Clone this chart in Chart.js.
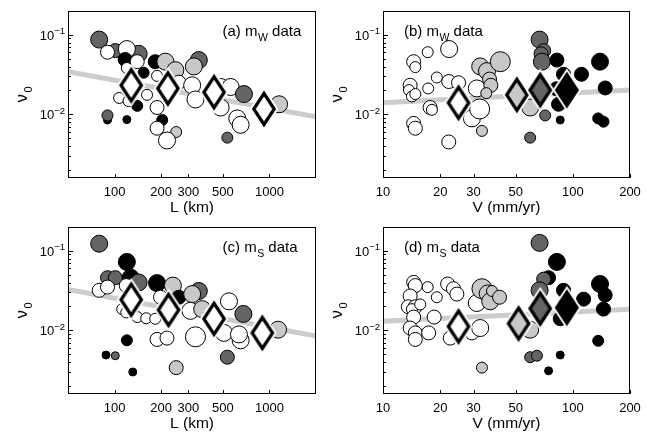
<!DOCTYPE html>
<html>
<head>
<meta charset="utf-8">
<script src="https://cdn.jsdelivr.net/npm/chart.js@4.4.1/dist/chart.umd.min.js"></script>
<style>
  html, body { margin: 0; padding: 0; background: #fff; }
  #wrap { position: relative; width: 661px; height: 437px; overflow: hidden; background: #fff; }
  #wrap canvas { position: absolute; }
</style>
</head>
<body>
<div id="wrap">
  <canvas id="pa" width="330" height="216" style="left:0px;top:0px"></canvas>
  <canvas id="pb" width="331" height="216" style="left:330px;top:0px"></canvas>
  <canvas id="pc" width="330" height="221" style="left:0px;top:216px"></canvas>
  <canvas id="pd" width="331" height="221" style="left:330px;top:216px"></canvas>
</div>
<script>
// ---- tick values ----
const lengthTicks = [100, 200, 300, 500, 1000];
const speedTicks = [10, 20, 30, 50, 100, 200];
const nuTicks = [0.1, 0.01];

// velocity group of each zone: 0 slow ... 3 fast; grade: relative marker weight 1..5

// ---- (a) m_W data against length L (km) ----
const aLength = [79.5, 101, 90, 143, 120, 117, 140, 120, 154, 107, 123, 162, 140, 90, 90, 120,
  183, 213, 188, 247, 260, 188, 203, 188, 250, 218, 350, 325, 317, 333, 484, 562, 484, 685, 620, 652, 535, 1155];
const aNu = [0.0872, 0.0634, 0.0605, 0.0578, 0.0663, 0.049, 0.046, 0.0383, 0.0334, 0.0161, 0.0147, 0.0176, 0.0128, 0.0085, 0.0097, 0.0086,
  0.046, 0.046, 0.0305, 0.036, 0.0254, 0.0122, 0.0085, 0.0067, 0.006, 0.0047, 0.0482, 0.0401, 0.0232, 0.0154, 0.0221, 0.0221, 0.0122, 0.018, 0.0089, 0.0074, 0.0051, 0.0134];
const aGroup = [2, 2, 0, 2, 0, 3, 0, 0, 3, 0, 0, 0, 3, 3, 2, 3,
  3, 1, 0, 1, 0, 0, 3, 0, 1, 0, 2, 1, 0, 0, 0, 0, 0, 2, 0, 0, 2, 1];
const aGrade = [4, 3, 3, 4, 4, 3, 3, 2, 2, 2, 2, 2, 2, 1, 2, 1,
  3, 4, 2, 4, 3, 3, 2, 3, 2, 4, 4, 4, 4, 4, 4, 4, 4, 4, 4, 4, 2, 4];
const aBinLength = [128, 221, 439, 922];
const aBinNu = [0.0232, 0.0212, 0.019, 0.0117];
const aBinGroup = [0, 0, 0, 0];
const aFitLength = [50, 2000];
const aFitNu = [0.0343, 0.0093];

// ---- (b) m_W data against velocity V (mm/yr) ----
const bSpeed = [14.5, 14.8, 13.9, 13.7, 14.2, 14.8, 14.5, 14.8, 17.2, 17.3, 19.2, 17.7, 18.1, 22.3, 22.2, 25, 22.2, 29.4, 31.2,
  32.5, 35.3, 36.4, 37, 35, 41.5, 33.2, 32.3, 59.6,
  66.8, 70.2, 68, 68.7, 71.5, 59.6,
  82.4, 89.3, 82, 84.1, 85.8, 111, 139, 148, 136, 145];
const bNu = [0.046, 0.0393, 0.0232, 0.0202, 0.0168, 0.018, 0.0077, 0.0067, 0.0605, 0.0212, 0.0291, 0.0122, 0.0114, 0.0663, 0.0259, 0.025, 0.0045, 0.0089, 0.0212,
  0.0401, 0.035, 0.0278, 0.0232, 0.0185, 0.046, 0.0062, 0.0117, 0.0122,
  0.0872, 0.0634, 0.0578, 0.046, 0.0097, 0.0051,
  0.0482, 0.0319, 0.021, 0.0134, 0.0085, 0.0319, 0.046, 0.0215, 0.0089, 0.0081];
const bGroup = [0, 0, 0, 0, 0, 0, 0, 0, 0, 0, 0, 0, 0, 0, 0, 0, 0, 0, 0,
  1, 1, 1, 1, 1, 1, 1, 0, 1,
  2, 2, 2, 2, 2, 2,
  3, 3, 3, 3, 3, 3, 3, 3, 3, 3];
const bGrade = [3, 2, 3, 2, 2, 2, 3, 3, 2, 2, 2, 3, 2, 4, 3, 3, 3, 4, 4,
  4, 4, 3, 3, 2, 5, 2, 5, 4,
  4, 3, 3, 4, 2, 2,
  3, 3, 3, 3, 1, 3, 4, 3, 2, 2];
const bBinSpeed = [25, 50.7, 67.3, 93];
const bBinNu = [0.014, 0.0176, 0.0202, 0.0202];
const bBinGroup = [0, 1, 2, 3];
const bFitSpeed = [10, 200];
const bFitNu = [0.014, 0.0202];

// ---- (c) m_S data against length L (km) ----
const cLength = [79.5, 90, 101, 127, 120, 143, 79.5, 90, 119,
  112, 119, 140, 160, 183,
  188, 238, 198, 260, 350, 317,
  309, 368, 548, 679,
  333, 188, 218, 652, 508, 636,
  1138, 120, 88, 101, 131, 250, 535];
const cNu = [0.123, 0.046, 0.046, 0.046, 0.0726, 0.0401, 0.0319, 0.035, 0.0366,
  0.0185, 0.0168, 0.0147, 0.0142, 0.014,
  0.0393, 0.0366, 0.0261, 0.0261, 0.0313, 0.0286,
  0.0176, 0.0185, 0.0232, 0.0161,
  0.0083, 0.0077, 0.008, 0.0075, 0.0093, 0.0089,
  0.0102, 0.0075, 0.0049, 0.0048, 0.003, 0.0034, 0.0046];
const cGroup = [2, 2, 2, 3, 3, 2, 0, 0, 0,
  0, 0, 0, 0, 0,
  3, 1, 0, 3, 2, 1,
  0, 1, 0, 2,
  0, 0, 0, 0, 0, 0,
  1, 3, 3, 2, 3, 1, 2];
const cGrade = [4, 3, 3, 4, 4, 4, 3, 3, 3,
  2, 2, 2, 2, 2,
  4, 4, 3, 3, 4, 4,
  4, 4, 4, 4,
  5, 3, 3, 4, 4, 4,
  4, 2, 1, 1, 1, 3, 3];
const cBinLength = [128, 223, 439, 900];
const cBinNu = [0.0243, 0.0181, 0.014, 0.0093];
const cBinGroup = [0, 0, 0, 0];
const cFitLength = [50, 2000];
const cFitNu = [0.0328, 0.0085];

// ---- (d) m_S data against velocity V (mm/yr) ----
const dSpeed = [14.5, 14.8, 13.9, 17.2, 19.2, 13.6, 14.8, 14.2, 15.7, 14.5, 18.6, 13.9, 14.8, 14.8, 17.4, 21.9, 23.5, 24.5, 22.6, 29.4, 31.2, 32.5,
  33.2, 35.6, 36.7, 37.5, 41.1, 33.2, 59.6,
  74.5,
  66.8, 70.2, 66.8, 71.5, 59.6, 64.7,
  82.4, 89.3, 85.8, 114, 139, 148, 145, 136, 85.8, 74.5];
const dNu = [0.0401, 0.0366, 0.0271, 0.035, 0.0261, 0.0198, 0.0198, 0.0185, 0.0212, 0.0147, 0.0147, 0.0107, 0.0093, 0.0077, 0.0093, 0.0383, 0.0334, 0.0286, 0.008, 0.0093, 0.0221, 0.0107,
  0.0334, 0.0291, 0.0232, 0.0313, 0.0261, 0.0034, 0.0102,
  0.046,
  0.126, 0.0441, 0.0319, 0.0185, 0.0046, 0.0048,
  0.0726, 0.0319, 0.014, 0.0247, 0.0383, 0.0278, 0.0185, 0.0074, 0.0049, 0.0031];
const dGroup = [0, 0, 0, 0, 0, 0, 0, 0, 0, 0, 0, 0, 0, 0, 0, 0, 0, 0, 0, 0, 0, 0,
  1, 1, 1, 1, 1, 1, 1,
  3,
  2, 2, 2, 2, 2, 2,
  3, 3, 3, 3, 3, 3, 3, 3, 3, 3];
const dGrade = [3, 3, 3, 2, 2, 3, 3, 2, 2, 3, 3, 3, 3, 3, 3, 3, 3, 3, 3, 3, 4, 4,
  5, 4, 4, 2, 3, 2, 4,
  3,
  4, 3, 4, 3, 2, 2,
  4, 3, 3, 3, 4, 3, 3, 2, 1, 1];
const dBinSpeed = [25, 51.8, 67.3, 93];
const dBinNu = [0.0112, 0.0122, 0.0188, 0.0193];
const dBinGroup = [0, 1, 2, 3];
const dFitSpeed = [10, 200];
const dFitNu = [0.013, 0.0185];

// ---- styling ----
const GROUP_FILL = ['#ffffff', '#c8c8c8', '#646464', '#000000'];
const FIT_COLOR = '#cccccc';
const FONT = '"Liberation Sans", Arial, Helvetica, sans-serif';
const NU_MIN = Math.pow(10, -2.8);
const NU_MAX = Math.pow(10, -0.7);

// marker radius from grade
function gradeRadius(g) { return 2.5 + 1.5 * g; }

// Tall diamond marker with a black outline and a thin white halo
function diamondMarker(fill) {
  const c = document.createElement('canvas');
  c.width = 36; c.height = 48;
  const g = c.getContext('2d');
  const hw = 10.2, hh = 15.5, cx = 18, cy = 24;
  g.beginPath();
  g.moveTo(cx, cy - hh);
  g.lineTo(cx + hw, cy);
  g.lineTo(cx, cy + hh);
  g.lineTo(cx - hw, cy);
  g.closePath();
  g.lineJoin = 'miter';
  g.strokeStyle = '#ffffff'; g.lineWidth = 7; g.stroke();
  g.fillStyle = fill; g.fill();
  g.strokeStyle = '#000000'; g.lineWidth = 3.2; g.stroke();
  return c;
}
const DIAMONDS = GROUP_FILL.map(diamondMarker);

// Frame, inward ticks, tick labels and titles
function framePlugin(spec) {
  return {
    id: 'frame',
    afterDraw(chart) {
      const { ctx, chartArea: a } = chart;
      const xs = chart.scales.x, ys = chart.scales.y;
      ctx.save();
      ctx.strokeStyle = '#000';
      ctx.fillStyle = '#000';
      ctx.lineWidth = 1;
      ctx.strokeRect(a.left + 0.5, a.top + 0.5, a.right - a.left - 1, a.bottom - a.top - 1);

      // y ticks (log decades with minor marks)
      ctx.beginPath();
      for (let e = -3; e <= -1; e++) {
        for (let k = 1; k <= 9; k++) {
          const v = k * Math.pow(10, e);
          if (v < ys.min || v > ys.max) continue;
          const py = Math.round(ys.getPixelForValue(v)) + 0.5;
          const len = k === 1 ? 4 : 2;
          ctx.moveTo(a.left, py);
          ctx.lineTo(a.left + 1 + len, py);
        }
      }
      // x ticks
      spec.xTicks.forEach(v => {
        const px = Math.round(xs.getPixelForValue(v)) + 0.5;
        ctx.moveTo(px, a.bottom);
        ctx.lineTo(px, a.bottom - 4);
      });
      ctx.stroke();

      // x tick labels
      ctx.font = '13px ' + FONT;
      ctx.textAlign = 'center';
      ctx.textBaseline = 'middle';
      spec.xTicks.forEach(v => {
        ctx.fillText(String(v), xs.getPixelForValue(v), a.bottom + 14);
      });
      // x title
      ctx.font = '15.5px ' + FONT;
      ctx.fillText(spec.xTitle, (a.left + a.right) / 2, a.bottom + 30);

      // y tick labels as powers of ten
      nuTicks.forEach(v => {
        const py = ys.getPixelForValue(v);
        const sup = '\u2212' + String(-Math.round(Math.log10(v)));
        ctx.font = '9.5px ' + FONT;
        const sw = ctx.measureText(sup).width;
        ctx.textAlign = 'left';
        ctx.fillText(sup, a.left - 3 - sw, py - 3.5);
        ctx.font = '13px ' + FONT;
        ctx.textAlign = 'right';
        ctx.fillText('10', a.left - 3 - sw, py + 1.5);
      });

      // y title: nu with subscript 0, rotated
      ctx.save();
      ctx.translate(a.left - 46, (a.top + a.bottom) / 2);
      ctx.rotate(-Math.PI / 2);
      ctx.textAlign = 'left';
      ctx.textBaseline = 'alphabetic';
      ctx.font = '17px ' + FONT;
      ctx.fillText('\u03bd', -8, 5);
      ctx.font = '11px ' + FONT;
      ctx.fillText('0', 2, 10);
      ctx.restore();

      // panel label with subscript
      ctx.textAlign = 'left';
      ctx.textBaseline = 'alphabetic';
      let x = a.left + spec.labelDx;
      const base = a.top + 25;
      ctx.font = '15px ' + FONT;
      ctx.fillText(spec.label, x, base);
      x += ctx.measureText(spec.label).width + 0.5;
      ctx.font = '10.5px ' + FONT;
      ctx.fillText(spec.sub, x, base + 5);
      x += ctx.measureText(spec.sub).width;
      ctx.font = '15px ' + FONT;
      ctx.fillText(' data', x, base);
      ctx.restore();
    }
  };
}

function buildPanel(id, spec) {
  const zones = spec.x.map((v, i) => ({ x: v, y: spec.nu[i] }));
  const bins = spec.binX.map((v, i) => ({ x: v, y: spec.binNu[i] }));
  const fit = spec.fitX.map((v, i) => ({ x: v, y: spec.fitNu[i] }));
  new Chart(document.getElementById(id), {
    type: 'scatter',
    data: {
      datasets: [
        {
          label: 'bin means',
          data: bins,
          order: 0,
          pointRadius: 10,
          pointStyle: ctx => DIAMONDS[spec.binGroup[ctx.dataIndex]]
        },
        {
          label: 'zones',
          data: zones,
          order: 1,
          pointStyle: 'circle',
          pointRadius: ctx => gradeRadius(spec.grade[ctx.dataIndex]),
          pointBackgroundColor: ctx => GROUP_FILL[spec.group[ctx.dataIndex]],
          pointBorderColor: '#000000',
          pointBorderWidth: 1
        },
        {
          label: 'fit',
          type: 'line',
          data: fit,
          order: 2,
          showLine: true,
          borderColor: FIT_COLOR,
          borderWidth: 5,
          pointRadius: 0,
          fill: false
        }
      ]
    },
    options: {
      responsive: false,
      animation: false,
      events: [],
      layout: { padding: spec.padding },
      plugins: { legend: { display: false }, tooltip: { enabled: false } },
      scales: {
        x: { type: 'logarithmic', display: false, min: spec.xMin, max: spec.xMax, bounds: 'data' },
        y: { type: 'logarithmic', display: false, min: NU_MIN, max: NU_MAX, bounds: 'data' }
      }
    },
    plugins: [framePlugin(spec)]
  });
}

buildPanel('pa', {
  x: aLength, nu: aNu, group: aGroup, grade: aGrade,
  binX: aBinLength, binNu: aBinNu, binGroup: aBinGroup,
  fitX: aFitLength, fitNu: aFitNu,
  xMin: 50, xMax: 2000, xTicks: lengthTicks, xTitle: 'L (km)',
  label: '(a) m', sub: 'W', labelDx: 154.5,
  padding: { left: 68, right: 14, top: 2, bottom: 38 }
});
buildPanel('pb', {
  x: bSpeed, nu: bNu, group: bGroup, grade: bGrade,
  binX: bBinSpeed, binNu: bBinNu, binGroup: bBinGroup,
  fitX: bFitSpeed, fitNu: bFitNu,
  xMin: 10, xMax: 200, xTicks: speedTicks, xTitle: 'V (mm/yr)',
  label: '(b) m', sub: 'W', labelDx: 21,
  padding: { left: 53, right: 31, top: 2, bottom: 38 }
});
buildPanel('pc', {
  x: cLength, nu: cNu, group: cGroup, grade: cGrade,
  binX: cBinLength, binNu: cBinNu, binGroup: cBinGroup,
  fitX: cFitLength, fitNu: cFitNu,
  xMin: 50, xMax: 2000, xTicks: lengthTicks, xTitle: 'L (km)',
  label: '(c) m', sub: 'S', labelDx: 154.5,
  padding: { left: 68, right: 14, top: 2, bottom: 43 }
});
buildPanel('pd', {
  x: dSpeed, nu: dNu, group: dGroup, grade: dGrade,
  binX: dBinSpeed, binNu: dBinNu, binGroup: dBinGroup,
  fitX: dFitSpeed, fitNu: dFitNu,
  xMin: 10, xMax: 200, xTicks: speedTicks, xTitle: 'V (mm/yr)',
  label: '(d) m', sub: 'S', labelDx: 21,
  padding: { left: 53, right: 31, top: 2, bottom: 43 }
});
</script>
</body>
</html>
